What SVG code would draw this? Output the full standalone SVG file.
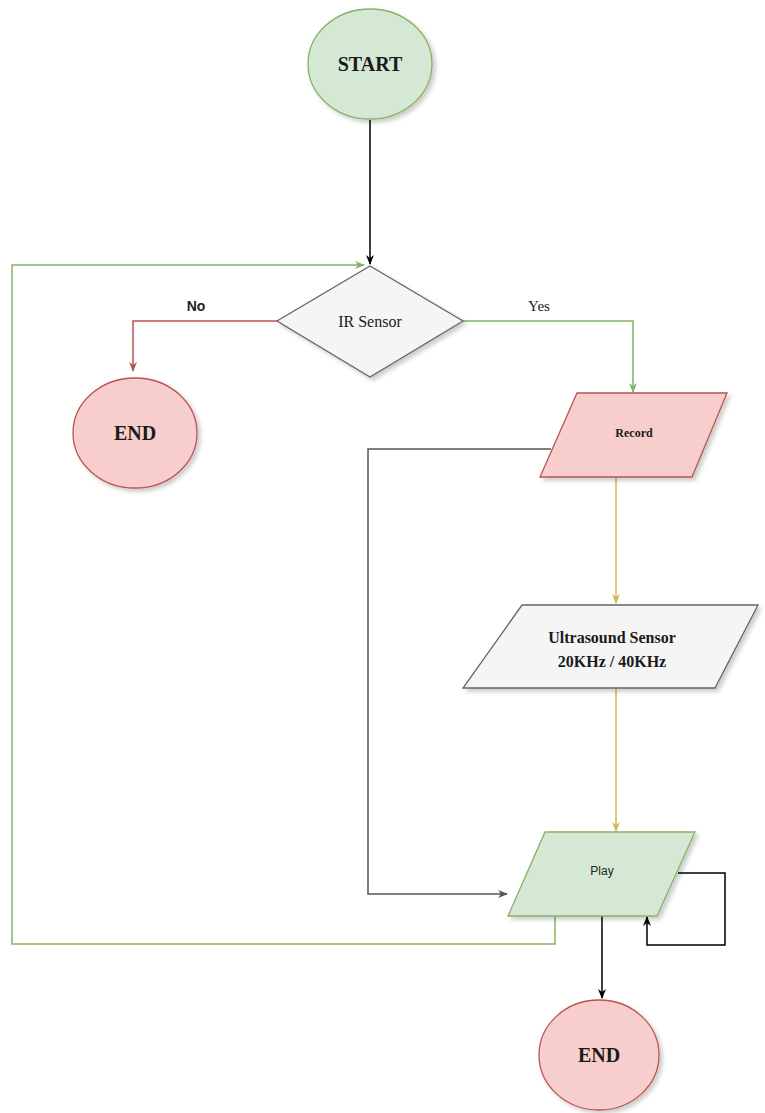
<svg xmlns="http://www.w3.org/2000/svg" width="765" height="1113" viewBox="0 0 765 1113">
<style>
.serif{font-family:"Liberation Serif","Times New Roman",serif;fill:#1a1a1a}
.sans{font-family:"Liberation Sans",Arial,sans-serif;fill:#222}
.green{fill:#d5e8d4;stroke:#82b366;stroke-width:1.3}
.red{fill:#f8cecc;stroke:#b85450;stroke-width:1.3}
.gray{fill:#f5f5f5;stroke:#666;stroke-width:1.3}
.c{fill:none;stroke-width:1.5}
</style>
<defs>
<filter id="sh" x="-20%" y="-20%" width="150%" height="150%">
<feDropShadow dx="3" dy="3" stdDeviation="2" flood-color="#000" flood-opacity="0.2"/>
</filter>
<marker id="aBlack" markerWidth="10" markerHeight="10" refX="9" refY="5" orient="auto" markerUnits="userSpaceOnUse"><path d="M0,1 L10,5 L0,9 L3,5 Z" fill="#000"/></marker>
<marker id="aGreen" markerWidth="10" markerHeight="10" refX="9" refY="5" orient="auto" markerUnits="userSpaceOnUse"><path d="M0,1 L10,5 L0,9 L3,5 Z" fill="#82b366"/></marker>
<marker id="aRed" markerWidth="10" markerHeight="10" refX="9" refY="5" orient="auto" markerUnits="userSpaceOnUse"><path d="M0,1 L10,5 L0,9 L3,5 Z" fill="#b85450"/></marker>
<marker id="aGray" markerWidth="10" markerHeight="10" refX="9" refY="5" orient="auto" markerUnits="userSpaceOnUse"><path d="M0,1 L10,5 L0,9 L3,5 Z" fill="#555"/></marker>
<marker id="aYellow" markerWidth="10" markerHeight="10" refX="9" refY="5" orient="auto" markerUnits="userSpaceOnUse"><path d="M0,1 L10,5 L0,9 L3,5 Z" fill="#d6b656"/></marker>
</defs>
<rect width="765" height="1113" fill="#fff"/>
<g id="connectors">
<path class="c" d="M370,120 L370,264" stroke="#000" marker-end="url(#aBlack)"/>
<path class="c" d="M277,321 L133,321 L133,371" stroke="#b85450" marker-end="url(#aRed)"/>
<path class="c" d="M463,321 L633,321 L633,392" stroke="#82b366" marker-end="url(#aGreen)"/>
<path class="c" d="M616,477 L616,603" stroke="#d6b656" marker-end="url(#aYellow)"/>
<path class="c" d="M616,688 L616,831" stroke="#d6b656" marker-end="url(#aYellow)"/>
<path class="c" d="M551,449 L368,449 L368,894 L507,894" stroke="#555" marker-end="url(#aGray)"/>
<path class="c" d="M555,916 L555,944 L12,944 L12,265 L364,265" stroke="#82b366" marker-end="url(#aGreen)"/>
<path class="c" d="M678,873 L725,873 L725,945 L647,945 L647,917" stroke="#000" marker-end="url(#aBlack)"/>
<path class="c" d="M602,916 L602,998" stroke="#000" marker-end="url(#aBlack)"/>
</g>
<g id="start">
<ellipse class="green" cx="370" cy="64" rx="62" ry="55" filter="url(#sh)"/>
<text class="serif" x="370" y="71" font-size="20" font-weight="bold" text-anchor="middle">START</text>
</g>
<g id="ir-sensor">
<polygon class="gray" points="370,266 463,321 370,377 277,321" filter="url(#sh)"/>
<text class="serif" x="370" y="327" font-size="16" text-anchor="middle">IR  Sensor</text>
</g>
<g id="label-no">
<text class="sans" x="196" y="311" font-size="14" font-weight="bold" text-anchor="middle">No</text>
</g>
<g id="label-yes">
<text class="serif" x="539" y="311" font-size="15" text-anchor="middle">Yes</text>
</g>
<g id="end1">
<ellipse class="red" cx="135" cy="433" rx="62" ry="55" filter="url(#sh)"/>
<text class="serif" x="135" y="440" font-size="20" font-weight="bold" text-anchor="middle">END</text>
</g>
<g id="record">
<polygon class="red" points="577,393 727,393 692,477 540,477" filter="url(#sh)"/>
<text class="serif" x="634" y="437" font-size="12" font-weight="bold" text-anchor="middle">Record</text>
</g>
<g id="ultrasound">
<polygon class="gray" points="522,605 758,605 715,688 463,688" filter="url(#sh)"/>
<text class="serif" x="612" y="643" font-size="16" font-weight="bold" text-anchor="middle">Ultrasound Sensor</text>
<text class="serif" x="612" y="667" font-size="16" font-weight="bold" text-anchor="middle">20KHz / 40KHz</text>
</g>
<g id="play">
<polygon class="green" points="545,832 695,832 657,916 508,916" filter="url(#sh)"/>
<text class="sans" x="602" y="875" font-size="12" text-anchor="middle">Play</text>
</g>
<g id="end2">
<ellipse class="red" cx="599" cy="1055" rx="60" ry="55" filter="url(#sh)"/>
<text class="serif" x="599" y="1062" font-size="20" font-weight="bold" text-anchor="middle">END</text>
</g>
</svg>
